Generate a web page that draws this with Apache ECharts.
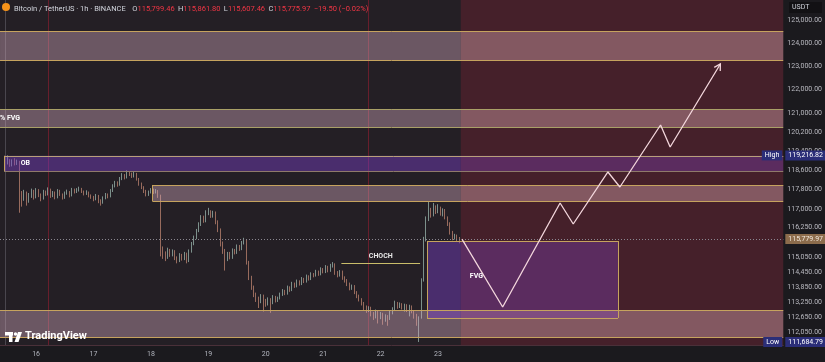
<!DOCTYPE html>
<html><head><meta charset="utf-8">
<script src="https://cdn.jsdelivr.net/npm/echarts@6/dist/echarts.min.js"></script>
<style>html,body{margin:0;padding:0;background:#1b1a1e}#c{width:825px;height:362px}</style>
</head><body><div id="c"></div>
<script>
const dayLabels = ['16','17','18','19','20','21','22','23'];
const dayIndex = [13,37,61,85,109,133,157,181];
const priceTicks = [125000,124000,123000,122000,121000,120200,119400,118600,117800,117000,116250,115050,114450,113850,113250,112650,112050];
const firstOpen = 118840;
const closes = [
118920,118990,118820,118960,118880,118940,117590,117440,117660,117340,
117540,117720,117490,117740,117560,117440,117690,117620,117790,117540,
117660,117490,117740,117600,117460,117640,117720,117540,117790,117690,
117760,117840,117720,117620,117690,117540,117490,117400,117540,117320,
117260,117440,117590,117520,117740,117940,118090,117990,118240,118390,
118290,118490,118440,118340,118460,118240,118040,117890,117740,117590,
117690,117790,117690,117740,117540,115380,115180,115030,115330,115130,
115280,115030,114890,115130,114980,115180,114890,115280,115580,115830,
116110,116360,116660,116510,116810,116900,116710,116850,116460,116160,
115580,115280,114980,115180,115030,115330,115230,115480,115380,115630,
115730,114850,114220,113840,113550,113400,113260,113500,113310,113170,
113360,113210,113450,113310,113400,113550,113690,113600,113840,113740,
113980,113890,114080,113980,114170,114080,114270,114170,114370,114320,
114460,114360,114560,114460,114660,114510,114700,114750,114410,114320,
114460,114220,114120,113980,113790,113890,113640,113500,113360,113210,
113070,112930,113020,112790,112690,112880,112640,112790,112550,112690,
112600,112830,112980,113210,113070,113170,113020,113120,112930,113070,
112880,112740,112500,112640,114120,115780,116560,116950,116750,117100,
116900,117050,116800,116950,116650,116410,116060,115820,115920,115799.46,
115775.97];
const highs = [
119080,119216.82,119060,119050,119100,119040,118990,117740,117790,117720,
117660,117840,117790,117860,117820,117640,117790,117760,117890,117840,
117740,117720,117820,117790,117640,117720,117800,117740,117870,117840,
117860,117920,117870,117760,117770,117720,117600,117540,117620,117580,
117400,117520,117660,117640,117820,118020,118160,118140,118320,118480,
118440,118600,118540,118500,118560,118490,118280,118090,117940,117790,
117760,117860,117840,117820,117780,117590,115480,115280,115430,115380,
115360,115330,115080,115210,115180,115260,115230,115360,115660,115920,
116190,116460,116750,116730,116950,117050,116950,116930,116900,116540,
116210,115680,115380,115260,115260,115400,115380,115560,115540,115700,
115830,115780,114900,114300,113910,113630,113470,113570,113550,113380,
113440,113410,113530,113500,113470,113630,113770,113740,113910,113880,
114060,114030,114150,114120,114250,114220,114350,114320,114440,114410,
114540,114510,114640,114610,114730,114700,114780,114850,114800,114490,
114530,114510,114280,114170,114030,113950,113930,113690,113550,113410,
113260,113120,113090,113070,112860,112960,112930,112860,112830,112770,
112740,112900,113050,113310,113260,113240,113210,113190,113170,113150,
113120,112930,112790,112690,114200,115870,116700,117300,117050,117250,
117150,117200,117100,117030,117000,116700,116460,116110,115990,115960,
115861.80];
const lows = [
118740,118840,118740,118760,118800,118820,116850,117100,117340,117140,
117260,117460,117390,117440,117490,117320,117390,117540,117560,117460,
117490,117400,117440,117540,117390,117420,117590,117480,117520,117640,
117660,117720,117660,117560,117580,117480,117420,117320,117360,117240,
117140,117220,117400,117440,117480,117700,117890,117920,117960,118190,
118220,118260,118360,118280,118300,118170,117960,117820,117660,117520,
117540,117640,117620,117640,117460,115080,114980,114890,114980,115060,
115080,114930,114800,114850,114910,114930,114800,114850,115230,115530,
115770,116060,116310,116440,116460,116750,116640,116650,116380,116060,
115480,115180,114510,114890,114960,114980,115160,115180,115300,115330,
115560,114750,114130,113740,113450,113260,113020,113210,112880,113070,
113120,112830,113170,113240,113260,113360,113500,113530,113550,113660,
113690,113820,113840,113910,113930,114010,114030,114110,114130,114240,
114270,114300,114320,114400,114410,114440,114460,114630,114340,114240,
114270,114140,114030,113890,113720,113740,113570,113410,113280,113120,
112930,112830,112860,112690,112550,112610,112410,112580,112360,112480,
112320,112550,112770,112930,112990,113020,112960,112880,112860,112690,
112810,112600,112320,111684.79,112600,114070,115680,116510,116650,116700,
116800,116830,116730,116700,116580,116310,115960,115730,115760,115660,
115607.46];
const lastPrice = 115779.97;
const highPrice = 119216.82;
const lowPrice = 111684.79;
const topZone = [123264, 124520];
const pctFvgZone = [120408, 121169];
const obZone = [118569, 119200];
const midZone = [117331, 117990];
const lowZone = [111880, 112942];
const fvgBox = [112626, 115700];
const fvgBoxTime = [176.4, 256.2];
const obStart = -0.4;
const midStart = 61.6;
const futureStart = 190.5;
const sessionLines = [17.9, 151.8];
const chochLevel = 114814;
const chochTime = [140.6, 173.5];
const fvgLabelAt = [194.3, 114295];
const projection = [[191,115779],[208,113059],[232,117249],[237.5,116391],[252,118528],[257,117906],[274,120492],[278,119569],[299,123091]];
const xMin = -2.08, xMax = 325.3;
const yMin = 111567, yMax = 125877;

const FONT = 'Roboto, "DejaVu Sans", sans-serif';
const fmt = v => v.toLocaleString('en-US', {minimumFractionDigits:2, maximumFractionDigits:2});
const candles = closes.map((c, i) => [i, i === 0 ? firstOpen : closes[i-1], c, lows[i], highs[i]]);

const PINK_L = 'rgba(215,172,192,0.40)';
const PINK_R = 'rgba(226,172,180,0.40)';
const PURP_L = 'rgba(123,62,198,0.45)';
const PURP_R = 'rgba(121,63,170,0.42)';
const BORDER = '#c6a35e';

function area(x1, x2, z, color) {
  return [{xAxis: x1, yAxis: z[0], itemStyle: {color}}, {xAxis: x2, yAxis: z[1]}];
}
function hline(x1, x2, y, color) {
  const d = [{coord: [x1, y]}, {coord: [x2, y]}];
  if (color) d[0].lineStyle = {color};
  return d;
}
function vline(x, z) { return [{coord: [x, z[0]]}, {coord: [x, z[1]]}]; }

const xEnd = xMax - 0.01, xBeg = xMin + 0.01;
const bandAreas = [
  area(xBeg, futureStart, topZone, PINK_L), area(futureStart, xEnd, topZone, PINK_R),
  area(xBeg, futureStart, pctFvgZone, PINK_L), area(futureStart, xEnd, pctFvgZone, PINK_R),
  area(obStart, futureStart, obZone, PURP_L), area(futureStart, xEnd, obZone, PURP_R),
  area(midStart, futureStart, midZone, PINK_L), area(futureStart, xEnd, midZone, PINK_R),
  area(xBeg, futureStart, lowZone, PINK_L), area(futureStart, xEnd, lowZone, PINK_R),
  area(fvgBoxTime[0], futureStart, fvgBox, PURP_L), area(futureStart, fvgBoxTime[1], fvgBox, PURP_R)
];
const bandLines = [
  hline(xBeg, xEnd, topZone[0]), hline(xBeg, xEnd, topZone[1]),
  hline(xBeg, xEnd, pctFvgZone[0], '#a9a067'), hline(xBeg, xEnd, pctFvgZone[1], '#a9a067'),
  hline(obStart, xEnd, obZone[0], '#8f7a6a'), hline(obStart, xEnd, obZone[1], '#b9a07a'), vline(obStart, obZone),
  hline(midStart, xEnd, midZone[0]), hline(midStart, xEnd, midZone[1]), vline(midStart, midZone),
  hline(xBeg, xEnd, lowZone[0]), hline(xBeg, xEnd, lowZone[1]),
  hline(fvgBoxTime[0], fvgBoxTime[1], fvgBox[0]), hline(fvgBoxTime[0], fvgBoxTime[1], fvgBox[1]),
  vline(fvgBoxTime[0], fvgBox), vline(fvgBoxTime[1], fvgBox)
];

const tagLabel = (text, pos, bg, dist) => ({show: true, position: pos, distance: dist, formatter: text, color: '#ffffff', fontSize: 7, fontFamily: FONT, backgroundColor: bg, padding: [2, 3, 1, 3]});
const textLabel = (text, pos, dist) => ({show: true, position: pos, distance: dist, formatter: text, color: '#ffffff', fontSize: 7, fontWeight: 'bold', fontFamily: FONT});

const chart = echarts.init(document.getElementById('c'), null, {renderer: 'canvas'});
chart.setOption({
  backgroundColor: '#1b1a1e',
  animation: false,
  textStyle: {fontFamily: FONT},
  grid: {left: 0, right: 38, top: 0, bottom: 17, show: true, backgroundColor: '#241f25', borderWidth: 0},
  xAxis: {
    type: 'value', min: xMin, max: xMax,
    axisLine: {show: true, lineStyle: {color: '#4a3039'}},
    axisTick: {show: false}, splitLine: {show: false},
    axisLabel: {customValues: dayIndex, formatter: v => dayLabels[dayIndex.indexOf(v)], color: '#b2b5be', fontSize: 7, margin: 6}
  },
  yAxis: {
    type: 'log', logBase: 10, position: 'right', min: yMin, max: yMax,
    axisLine: {show: true, lineStyle: {color: '#4a464e'}},
    axisTick: {show: false}, splitLine: {show: false}, minorTick: {show: false}, minorSplitLine: {show: false},
    axisLabel: {customValues: priceTicks, formatter: v => fmt(v), color: '#b9b9c0', fontSize: 7, margin: 4}
  },
  series: [
    {
      type: 'line', data: [], silent: true,
      markArea: {silent: true, z: 1, data: [[{xAxis: futureStart, itemStyle: {color: 'rgba(180,40,60,0.23)'}}, {xAxis: xEnd}]]},
      markLine: {silent: true, z: 1, symbol: ['none', 'none'], label: {show: false},
        lineStyle: {color: 'rgba(150,30,50,0.6)', width: 1, type: 'solid'},
        data: sessionLines.map(x => ({xAxis: x}))}
    },
    {
      type: 'candlestick', data: candles, encode: {x: 0, y: [1, 2, 3, 4]}, barWidth: 1.3, z: 2,
      itemStyle: {color: '#a3c2b8', color0: '#cc8c76', borderColor: '#a3c2b8', borderColor0: '#cc8c76', borderWidth: 0.7}
    },
    {
      type: 'line', data: [], silent: true,
      markArea: {silent: true, z: 3, data: bandAreas},
      markLine: {silent: true, z: 4, symbol: ['none', 'none'], label: {show: false},
        lineStyle: {color: BORDER, width: 1, type: 'solid'}, data: bandLines}
    },
    {
      type: 'line', data: projection, showSymbol: false, z: 6, silent: true,
      lineStyle: {color: '#f3d6dc', width: 1.3}
    },
    {
      type: 'custom', z: 6, silent: true,
      data: [[projection[projection.length-2][0], projection[projection.length-2][1], projection[projection.length-1][0], projection[projection.length-1][1]]],
      encode: {x: [0, 2], y: [1, 3]},
      renderItem: (params, api) => {
        const a = api.coord([api.value(0), api.value(1)]);
        const b = api.coord([api.value(2), api.value(3)]);
        const ang = Math.atan2(b[1] - a[1], b[0] - a[0]);
        const L = 7, s = Math.PI / 6;
        return {type: 'polyline', shape: {points: [[b[0] - L * Math.cos(ang - s), b[1] - L * Math.sin(ang - s)], b, [b[0] - L * Math.cos(ang + s), b[1] - L * Math.sin(ang + s)]]},
          style: {stroke: '#f3d6dc', lineWidth: 1.3, fill: null}};
      }
    },
    {
      type: 'line', data: [], silent: true,
      markLine: {silent: true, z: 5, symbol: ['none', 'none'],
        data: [
          {yAxis: lastPrice, lineStyle: {color: '#8a8790', width: 1, type: [1, 2]},
           label: {show: true, position: 'end', distance: 2, formatter: fmt(lastPrice), color: '#f2e8dc', fontSize: 7, backgroundColor: '#8c6c4c', padding: [2, 3, 1, 3]}},
          [{coord: [chochTime[0], chochLevel], lineStyle: {color: '#c9bd6a', width: 1, type: 'solid'}, label: {show: false}}, {coord: [chochTime[1], chochLevel]}]
        ]},
      markPoint: {silent: true, z: 7, symbol: 'circle', symbolSize: 0,
        data: [
          {coord: [xBeg, (pctFvgZone[0] + pctFvgZone[1]) / 2], label: textLabel('% FVG', 'right', 0)},
          {coord: [obStart + 7, (obZone[0] + obZone[1]) / 2], label: textLabel('OB', 'right', 0)},
          {coord: [(chochTime[0] + chochTime[1]) / 2, chochLevel], label: Object.assign(textLabel('CHOCH', 'top', 3), {color: '#e6e6e6'})},
          {coord: fvgLabelAt, label: textLabel('FVG', 'right', 0)},
          {coord: [xEnd, highPrice], label: tagLabel('High', 'left', '#2b2e78', 1)},
          {coord: [xEnd, lowPrice], label: tagLabel('Low', 'left', '#2b2e78', 1)},
          {coord: [xEnd, highPrice], label: tagLabel(fmt(highPrice), 'right', '#2b2e78', 2)},
          {coord: [xEnd, lowPrice], label: tagLabel(fmt(lowPrice), 'right', '#2b2e78', 2)}
        ]}
    }
  ],
  graphic: [
    {type: 'circle', shape: {cx: 6, cy: 7, r: 4}, style: {fill: '#f7931a'}, z: 100},
    {type: 'text', left: 14, top: 3, z: 100, style: {
      text: '{t|Bitcoin / TetherUS · 1h · BINANCE}  {k|O}{v|115,799.46} {k|H}{v|115,861.80} {k|L}{v|115,607.46} {k|C}{v|115,775.97} {v|−19.50 (−0.02%)}',
      rich: {t: {fill: '#d1d4dc', fontSize: 7.5, fontFamily: FONT}, k: {fill: '#d1d4dc', fontSize: 7.5, fontFamily: FONT}, v: {fill: '#f23645', fontSize: 7.5, fontFamily: FONT}}}},
    {type: 'rect', shape: {x: 789, y: 2, width: 33, height: 11}, style: {fill: '#121114'}, z: 100},
    {type: 'text', left: 792, top: 4, z: 101, style: {text: 'USDT', fill: '#d1d4dc', fontSize: 7, fontFamily: FONT}},
    {type: 'rect', shape: {x: 5, y: 332, width: 8, height: 3.5}, style: {fill: '#ffffff'}, z: 100},
    {type: 'rect', shape: {x: 9, y: 332, width: 3.5, height: 10}, style: {fill: '#ffffff'}, z: 100},
    {type: 'circle', shape: {cx: 15.5, cy: 334, r: 1.7}, style: {fill: '#ffffff'}, z: 100},
    {type: 'polygon', shape: {points: [[18, 332], [22, 332], [18.5, 342], [14.5, 342]]}, style: {fill: '#ffffff'}, z: 100},
    {type: 'text', left: 25, top: 331, z: 100, style: {text: 'TradingView', fill: '#ffffff', fontSize: 11, fontWeight: 'bold', fontFamily: FONT}}
  ]
});
</script></body></html>
